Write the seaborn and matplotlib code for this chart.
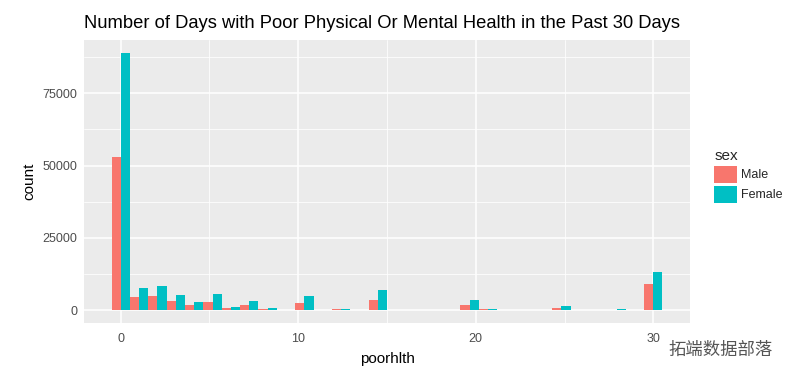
import matplotlib
matplotlib.use("Agg")
import matplotlib.pyplot as plt
import seaborn as sns
import pandas as pd
from matplotlib.patches import Patch
from matplotlib.ticker import MultipleLocator

# ---- data ----
days = [0, 1, 2, 3, 4, 5, 6, 7, 8, 10, 12, 14, 20, 21, 25, 28, 30]
male = [52900, 4600, 4950, 3100, 1700, 2750, 700, 1700, 350, 2500, 350, 3600, 1750, 350, 700, 0, 9100]
female = [89000, 7500, 8500, 5400, 2750, 5750, 1050, 3200, 700, 4950, 350, 6900, 3550, 350, 1500, 350, 13350]
sexes = ["Male", "Female"]
colors = ["#F8766D", "#00BFC4"]
x_ticks = [0, 10, 20, 30]
y_ticks = [0, 25000, 50000, 75000]

df = pd.DataFrame({
    "poorhlth": days + days,
    "sex": ["Male"] * len(days) + ["Female"] * len(days),
    "n": male + female,
})

sns.set_theme(style="white")
plt.rcParams["font.family"] = ["Liberation Sans", "DejaVu Sans"]

fig = plt.figure(figsize=(7.91, 3.76), dpi=100)
ax = fig.add_axes([84 / 791, 1 - 323 / 376, (690 - 84) / 791, (323 - 40) / 376])

half = 15 / 29
sns.histplot(data=df, x="poorhlth", hue="sex", weights="n", bins=30,
             binrange=(-half, 30 + half), multiple="dodge", shrink=1,
             hue_order=sexes, palette=colors, alpha=1, linewidth=0,
             legend=False, ax=ax)

ax.set_facecolor("#EBEBEB")
for s in ax.spines.values():
    s.set_visible(False)
ax.set_xlim(-2.07, 32.07)
ax.set_ylim(-4450, 93450)
ax.set_xticks(x_ticks)
ax.set_yticks(y_ticks)
ax.xaxis.set_minor_locator(MultipleLocator(5))
ax.yaxis.set_minor_locator(MultipleLocator(12500))
ax.grid(True, which="major", color="white", linewidth=1.1)
ax.grid(True, which="minor", color="white", linewidth=0.55)
ax.set_axisbelow(True)
ax.tick_params(axis="x", which="major", length=3, width=0.8, color="#333333",
               labelcolor="#4D4D4D", labelsize=9, pad=4)
ax.tick_params(axis="y", which="major", length=3, width=0.8, color="#333333",
               labelcolor="#4D4D4D", labelsize=9, pad=2)
ax.tick_params(axis="both", which="minor", length=0)
ax.set_xlabel("poorhlth", fontsize=11, color="black", labelpad=5)
ax.set_ylabel("count", fontsize=11, color="black", labelpad=4)
ax.set_title("Number of Days with Poor Physical Or Mental Health in the Past 30 Days",
             fontsize=13.2, loc="left", x=0.0, pad=9, color="black")

handles = [Patch(facecolor=c, edgecolor="none") for c in colors]
leg = ax.legend(handles, sexes, title="sex", loc="upper left",
                bbox_to_anchor=(708 / 791, 1 - 143 / 376), bbox_transform=fig.transFigure,
                frameon=False, fontsize=9, title_fontsize=11, handlelength=1.85,
                handleheight=1.75, labelspacing=0.2, handletextpad=0.3,
                borderpad=0, alignment="left")

fig.text(668 / 791, 1 - 350 / 376, "拓端数据部落", fontsize=12.5,
         family=["Noto Sans CJK SC", "DejaVu Sans"], color="#555555", va="center", ha="left")

fig.savefig("out.png", dpi=100)
